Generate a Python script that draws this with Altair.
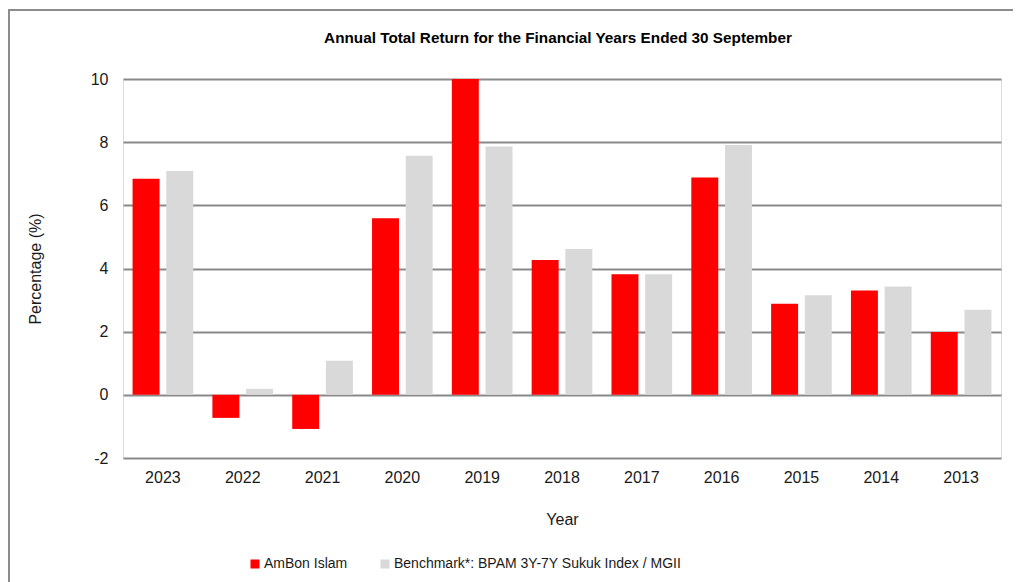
import altair as alt
import pandas as pd

years = ["2023", "2022", "2021", "2020", "2019", "2018", "2017", "2016", "2015", "2014", "2013"]
series = ["AmBon Islam", "Benchmark*: BPAM 3Y-7Y Sukuk Index / MGII"]
ambon = [6.84, -0.73, -1.08, 5.59, 10.0, 4.27, 3.82, 6.88, 2.88, 3.30, 1.99]
bench = [7.09, 0.19, 1.08, 7.57, 7.86, 4.62, 3.82, 7.91, 3.15, 3.43, 2.69]
colors = ["#FF0000", "#D9D9D9"]
title_text = ["Annual Total Return for the Financial Years Ended 30 September"]

rows = []
for y, a, b in zip(years, ambon, bench):
    rows.append({"year": y, "series": series[0], "value": a})
    rows.append({"year": y, "series": series[1], "value": b})
df = pd.DataFrame(rows)

FONT = "Liberation Sans"

border = alt.Chart(pd.DataFrame({"k": [0]})).mark_rect(
    fill=None, stroke="#8c8c8c", strokeWidth=2
).encode(
    x=alt.value(-114), x2=alt.value(1100), y=alt.value(-69), y2=alt.value(700)
)

title = alt.Chart(pd.DataFrame({"t": title_text})).mark_text(
    font=FONT, fontSize=15.3, fontWeight="bold", color="#000000",
    align="center", baseline="middle"
).encode(x=alt.value(435), y=alt.value(-41), text="t:N")

bars = alt.Chart(df).mark_bar().encode(
    x=alt.X("year:N", sort=years, title="Year",
            scale=alt.Scale(paddingInner=0.24, paddingOuter=0.12),
            axis=alt.Axis(labelAngle=0, ticks=False, domain=False, grid=False,
                          labelPadding=11, titlePadding=26,
                          labelFontSize=16, titleFontSize=16, labelColor="#1a1a1a",
                          titleColor="#1a1a1a", labelFont=FONT, titleFont=FONT,
                          titleFontWeight="normal")),
    xOffset=alt.XOffset("series:N", sort=series,
                        scale=alt.Scale(paddingInner=0.2, paddingOuter=0)),
    y=alt.Y("value:Q", title="Percentage (%)",
            scale=alt.Scale(domain=[-2, 10], nice=False, zero=False),
            axis=alt.Axis(values=[-2, 0, 2, 4, 6, 8, 10], ticks=False, domain=False,
                          labelExpr="toString(datum.value)",
                          grid=True, gridColor="#898989", gridWidth=2, gridOpacity=1,
                          labelPadding=15, titlePadding=47,
                          labelFontSize=16, titleFontSize=16, labelColor="#1a1a1a",
                          titleColor="#1a1a1a", labelFont=FONT, titleFont=FONT,
                          titleFontWeight="normal")),
    color=alt.Color("series:N", sort=series,
                    scale=alt.Scale(domain=series, range=colors),
                    legend=alt.Legend(title=None, orient="none", direction="horizontal",
                                      legendX=125, legendY=478,
                                      symbolType="square", symbolSize=81,
                                      symbolStrokeWidth=0, symbolOpacity=1,
                                      labelFontSize=14, labelFont=FONT,
                                      labelColor="#1a1a1a", labelOffset=2,
                                      labelLimit=0, columnPadding=30)),
)

chart = alt.layer(border, title, bars).properties(
    width=878,
    height=379,
    autosize=alt.AutoSizeParams(type="none"),
    padding={"left": 115, "top": 71, "right": 12, "bottom": 124},
).configure_view(stroke=None).configure(background="white")

chart.save("out.html", embed_options={"renderer": "svg", "actions": False})
